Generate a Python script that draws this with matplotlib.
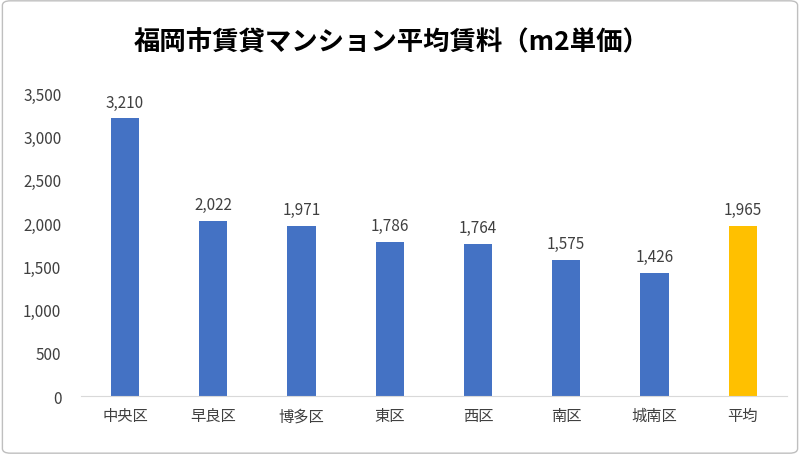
import matplotlib
matplotlib.use("Agg")
import matplotlib.pyplot as plt
from matplotlib.patches import FancyBboxPatch

categories = ["中央区", "早良区", "博多区", "東区", "西区", "南区", "城南区", "平均"]
values = [3210, 2022, 1971, 1786, 1764, 1575, 1426, 1965]
colors = ["#4472C4"] * 7 + ["#FFC000"]
yticks = [0, 500, 1000, 1500, 2000, 2500, 3000, 3500]

plt.rcParams["font.family"] = "Noto Sans CJK JP"
fig = plt.figure(figsize=(8, 4.56), dpi=100)
fig.patches.append(FancyBboxPatch((0.003, 0.004), 0.994, 0.992, boxstyle="round,pad=0,rounding_size=0.01",
                                  transform=fig.transFigure, fill=False, edgecolor="#BFBFBF", linewidth=1))
ax = fig.add_axes([0.101, 0.129, 0.8825, 0.664])
x = range(len(categories))
ax.bar(x, values, width=0.32, color=colors)
for i, v in zip(x, values):
    ax.text(i, v + 90, f"{v:,}", ha="center", va="bottom", fontsize=11, color="#404040")
ax.set_xlim(-0.5, len(categories) - 0.5)
ax.set_ylim(0, 3500)
ax.set_yticks(yticks)
ax.set_yticklabels([f"{t:,}" for t in yticks])
ax.set_xticks(list(x))
ax.set_xticklabels(categories)
ax.tick_params(length=0, labelsize=11, colors="#404040")
ax.tick_params(axis="y", pad=14)
ax.tick_params(axis="x", pad=8)
for s in ["top", "right", "left"]:
    ax.spines[s].set_visible(False)
ax.spines["bottom"].set_color("#D9D9D9")
fig.text(0.49, 0.905, "福岡市賃貸マンション平均賃料（m2単価）", ha="center", va="center",
         fontsize=19, fontweight="bold", color="#000000")
fig.savefig("out.png", dpi=100)
